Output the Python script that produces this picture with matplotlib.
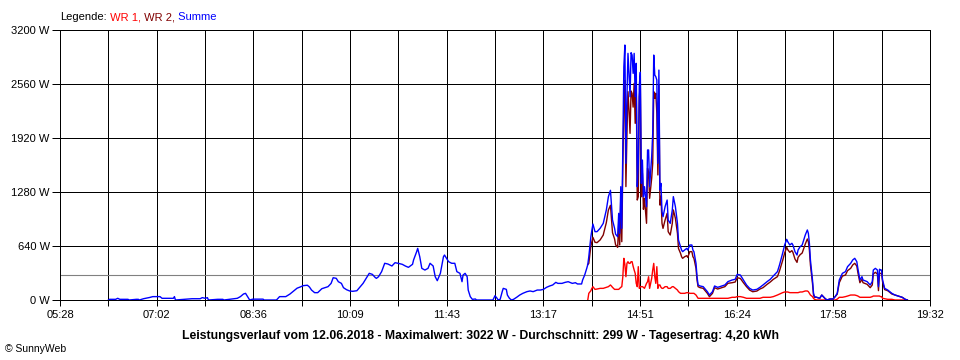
import matplotlib
matplotlib.use("Agg")
import matplotlib.pyplot as plt
import numpy as np

plt.rcParams['font.family'] = ['Liberation Sans', 'DejaVu Sans']

# ---- data ----
early_times = ["06:15", "06:16", "06:22", "06:24", "06:26", "06:34", "06:35", "06:42", "06:44", "06:45",
               "06:49", "06:55", "06:58", "07:05", "07:07", "07:18", "07:19", "07:20", "07:36", "07:44",
               "07:46", "07:49", "07:51", "07:52", "08:01", "08:06", "08:07", "08:20", "08:23", "08:26",
               "08:28", "08:30", "08:32", "08:35", "08:45", "08:46", "08:58", "09:01", "09:07", "09:11",
               "09:14", "09:18", "09:21", "09:24", "09:28", "09:30", "09:32", "09:35", "09:38", "09:42",
               "09:45", "09:48", "09:51", "09:53", "09:56", "09:58", "10:01", "10:03", "10:06", "10:09",
               "10:12", "10:16", "10:19", "10:22", "10:25", "10:28", "10:31", "10:34", "10:35", "10:37",
               "10:40", "10:43", "10:46", "10:50", "10:53", "10:56", "11:00", "11:03", "11:06", "11:10",
               "11:11", "11:14", "11:15", "11:17", "11:19", "11:22", "11:25", "11:27", "11:30", "11:32",
               "11:34", "11:37", "11:40", "11:41", "11:43", "11:45", "11:48", "11:51", "11:53", "11:56",
               "11:58", "11:59", "12:01", "12:03", "12:04", "12:06", "12:08", "12:11", "12:12", "12:28",
               "12:30", "12:32", "12:33", "12:35", "12:37", "12:38", "12:41", "12:42", "12:44", "12:46",
               "12:48", "12:51", "12:54", "12:57", "13:01", "13:04", "13:07", "13:11", "13:14", "13:17",
               "13:20", "13:23", "13:26", "13:29", "13:31", "13:35", "13:38", "13:41", "13:45", "13:48",
               "13:50", "13:54", "13:55", "13:57", "13:59"]
early_summe = [0, 8, 8, 20, 8, 8, 0, 8, 8, 0,
               15, 30, 40, 40, 20, 20, 40, 0, 15, 15,
               28, 20, 28, 0, 8, 8, 0, 20, 40, 71,
               79, 40, 0, 10, 10, 0, 0, 40, 40, 70,
               100, 140, 154, 170, 175, 154, 118, 87, 87, 134,
               146, 158, 197, 264, 257, 217, 197, 146, 122, 107,
               103, 110, 154, 197, 257, 316, 304, 264, 257, 276,
               336, 435, 427, 403, 442, 435, 423, 403, 387, 423,
               474, 573, 612, 513, 375, 355, 375, 435, 403, 276,
               229, 316, 513, 533, 494, 454, 435, 435, 336, 316,
               217, 296, 316, 276, 118, 40, 8, 12, 0, 0,
               51, 20, 0, 8, 99, 138, 126, 59, 20, 0,
               8, 32, 59, 79, 99, 107, 99, 118, 118, 126,
               150, 166, 178, 209, 197, 197, 209, 217, 197, 205,
               190, 190, 237, 296, 375]

late_times = ["14:00", "14:01", "14:03", "14:04", "14:05", "14:07", "14:09", "14:12", "14:15", "14:18",
              "14:20", "14:22", "14:23", "14:24", "14:26", "14:27", "14:29", "14:30", "14:31", "14:32",
              "14:33", "14:34", "14:35", "14:36", "14:37", "14:38", "14:39", "14:40", "14:41", "14:42",
              "14:43", "14:44", "14:45", "14:46", "14:47", "14:48", "14:49", "14:50", "14:51", "14:52",
              "14:53", "14:54", "14:55", "14:57", "14:58", "14:59", "15:00", "15:02", "15:03", "15:04",
              "15:05", "15:06", "15:07", "15:08", "15:09", "15:10", "15:11", "15:12", "15:13", "15:15",
              "15:17", "15:18", "15:20", "15:22", "15:23", "15:25", "15:27", "15:28", "15:30", "15:31",
              "15:32", "15:34", "15:36", "15:37", "15:39", "15:41", "15:42", "15:43", "15:45", "15:46",
              "15:47", "15:49", "15:52", "15:56", "15:58", "16:01", "16:03", "16:06", "16:10", "16:13",
              "16:16", "16:20", "16:23", "16:25", "16:28", "16:31", "16:34", "16:37", "16:40", "16:44",
              "16:47", "16:50", "16:54", "16:57", "17:00", "17:04", "17:06", "17:09", "17:11", "17:13",
              "17:14", "17:16", "17:18", "17:19", "17:21", "17:23", "17:24", "17:26", "17:28", "17:29",
              "17:31", "17:33", "17:34", "17:35", "17:36", "17:38", "17:39", "17:40", "17:42", "17:45",
              "17:47", "17:50", "17:52", "17:55", "17:58", "18:00", "18:02", "18:04", "18:07", "18:10",
              "18:12", "18:15", "18:17", "18:19", "18:21", "18:22", "18:24", "18:26", "18:27", "18:31",
              "18:34", "18:36", "18:37", "18:39", "18:41", "18:42", "18:43", "18:44", "18:45", "18:46",
              "18:48", "18:51", "18:55", "18:58", "19:01", "19:05", "19:08", "19:10"]
late_summe = [420, 513, 750, 830, 900, 810, 810, 850, 908, 1067,
              1224, 1300, 1120, 948, 850, 780, 750, 1027, 790, 1343,
              849, 1860, 2765, 3022, 1620, 2409, 2923, 2686, 2409, 2931,
              2903, 2686, 2923, 2410, 2805, 1343, 1620, 2548, 2700, 1382,
              1659, 1225, 1343, 1106, 1778, 1778, 1343, 1700, 1975, 2903,
              2666, 2647, 2607, 1620, 2725, 1303, 1382, 1047, 987, 1106,
              1185, 948, 908, 1067, 1225, 1106, 908, 710, 632, 592,
              573, 592, 612, 592, 652, 652, 592, 572, 434, 276,
              178, 166, 158, 99, 59, 99, 166, 150, 166, 178,
              218, 237, 245, 304, 296, 237, 178, 138, 118, 126,
              150, 178, 218, 245, 285, 336, 415, 553, 652, 719,
              691, 652, 672, 652, 573, 533, 592, 632, 652, 691,
              770, 830, 790, 672, 474, 237, 79, 40, 32, 20,
              59, 20, 0, 12, 12, 40, 79, 237, 316, 336,
              395, 434, 474, 494, 454, 375, 237, 276, 237, 218,
              178, 218, 355, 375, 355, 158, 365, 355, 355, 237,
              138, 118, 79, 59, 47, 32, 8, 0]
wr1 = [0, 79, 110, 138, 158, 126, 130, 138, 138, 150,
       158, 178, 165, 150, 126, 126, 126, 126, 138, 150,
       158, 276, 494, 420, 276, 434, 454, 434, 434, 454,
       454, 400, 355, 316, 197, 158, 395, 138, 158, 158,
       158, 150, 138, 197, 217, 276, 138, 257, 355, 434,
       276, 197, 395, 138, 178, 178, 150, 138, 138, 158,
       158, 138, 138, 158, 158, 138, 118, 99, 79, 79,
       79, 79, 87, 87, 79, 79, 79, 79, 59, 40,
       20, 20, 20, 20, 20, 20, 20, 20, 20, 20,
       20, 32, 32, 40, 40, 32, 20, 20, 20, 20,
       20, 32, 32, 32, 40, 59, 70, 87, 95, 95,
       95, 87, 87, 87, 87, 87, 87, 95, 95, 99,
       107, 107, 99, 79, 59, 40, 20, 8, 0, 0,
       0, 0, 0, 0, 0, 0, 10, 32, 32, 40,
       47, 59, 59, 59, 52, 47, 32, 32, 32, 32,
       32, 40, 47, 47, 47, 47, 47, 40, 40, 20,
       15, 8, 8, 0, 0, 0, 0, 0]
wr2 = [420, 434, 640, 692, 742, 684, 680, 712, 770, 917,
       1066, 1122, 955, 798, 724, 654, 624, 901, 652, 1193,
       691, 1584, 2271, 2602, 1344, 1975, 2469, 2252, 1975, 2477,
       2449, 2286, 2568, 2094, 2608, 1185, 1225, 2410, 2542, 1224,
       1501, 1075, 1205, 909, 1561, 1502, 1205, 1443, 1620, 2469,
       2390, 2450, 2212, 1482, 2547, 1125, 1232, 909, 849, 948,
       1027, 810, 770, 909, 1067, 968, 790, 611, 553, 513,
       494, 513, 525, 505, 573, 573, 513, 493, 375, 236,
       158, 146, 138, 79, 39, 79, 146, 130, 146, 158,
       198, 205, 213, 264, 256, 205, 158, 118, 98, 106,
       130, 146, 186, 213, 245, 277, 345, 466, 557, 624,
       596, 565, 585, 565, 486, 446, 505, 537, 557, 592,
       663, 723, 691, 593, 415, 197, 59, 32, 32, 20,
       59, 20, 0, 12, 12, 40, 69, 205, 284, 296,
       348, 375, 415, 435, 402, 328, 205, 244, 205, 186,
       146, 178, 308, 328, 308, 111, 318, 315, 315, 217,
       123, 110, 71, 59, 47, 32, 8, 0]

x_tick_labels = ["05:28", "07:02", "08:36", "10:09", "11:43", "13:17", "14:51", "16:24", "17:58", "19:32"]
y_ticks = [0, 640, 1280, 1920, 2560, 3200]
average = 299
title = ("Leistungsverlauf vom 12.06.2018 - Maximalwert: 3022 W - "
         "Durchschnitt: 299 W - Tagesertrag: 4,20 kWh")


def to_min(s):
    h, m = s.split(":")
    return int(h) * 60 + int(m)


t_early = [to_min(s) for s in early_times]
t_late = [to_min(s) for s in late_times]
t_sum = t_early + t_late
summe = early_summe + late_summe

W, H = 960, 360
fig = plt.figure(figsize=(W / 100, H / 100), dpi=100)
ax = fig.add_axes([60 / W, 60 / H, 870 / W, 270 / H])

x0, x1 = to_min(x_tick_labels[0]), to_min(x_tick_labels[-1])
ax.set_xlim(x0, x1)
ax.set_ylim(0, 3200)

xt = np.linspace(x0, x1, 2 * (len(x_tick_labels) - 1) + 1)
xl = []
for i in range(len(xt)):
    xl.append(x_tick_labels[i // 2] if i % 2 == 0 else "")
ax.set_xticks(xt)
ax.set_xticklabels(xl)
ax.set_yticks(y_ticks)
ax.set_yticklabels([f"{v} W" for v in y_ticks])

lw_px = 0.72
ax.grid(True, color="black", linewidth=lw_px, antialiased=False)
ax.set_axisbelow(True)
for sp in ax.spines.values():
    sp.set_color("black")
    sp.set_linewidth(lw_px)
ax.tick_params(axis="y", length=5.8, width=lw_px, pad=1.5, labelsize=8)
ax.tick_params(axis="x", length=4.3, width=lw_px, pad=3, labelsize=8)

ax.axhline(average, color="#808080", linewidth=0.8, zorder=2)
ax.plot(t_late, wr1, color="#ff0000", linewidth=1.0, zorder=3)
ax.plot(t_late, wr2, color="#800000", linewidth=1.0, zorder=4)
ax.plot(t_sum, summe, color="#0000ff", linewidth=1.0, zorder=5)

fig.text(0.5, 1 - 336 / H, title, ha="center", va="center", fontsize=8.8, fontweight="bold")
fig.text(5 / W, 1 - 349 / H, "\u00a9 SunnyWeb", ha="left", va="center", fontsize=7.5)

fig.canvas.draw()
r = fig.canvas.get_renderer()
pieces = [("Legende:", "black"), (" WR 1,", "#ff0000"), (" WR 2,", "#800000"), (" Summe", "#0000ff")]
xpos = 60.0
for txt, col in pieces:
    t = fig.text(xpos / W, 1 - 17 / H, txt, color=col, fontsize=8, ha="left", va="center")
    bb = t.get_window_extent(renderer=r)
    xpos += bb.width

fig.savefig("out.png", dpi=100)
